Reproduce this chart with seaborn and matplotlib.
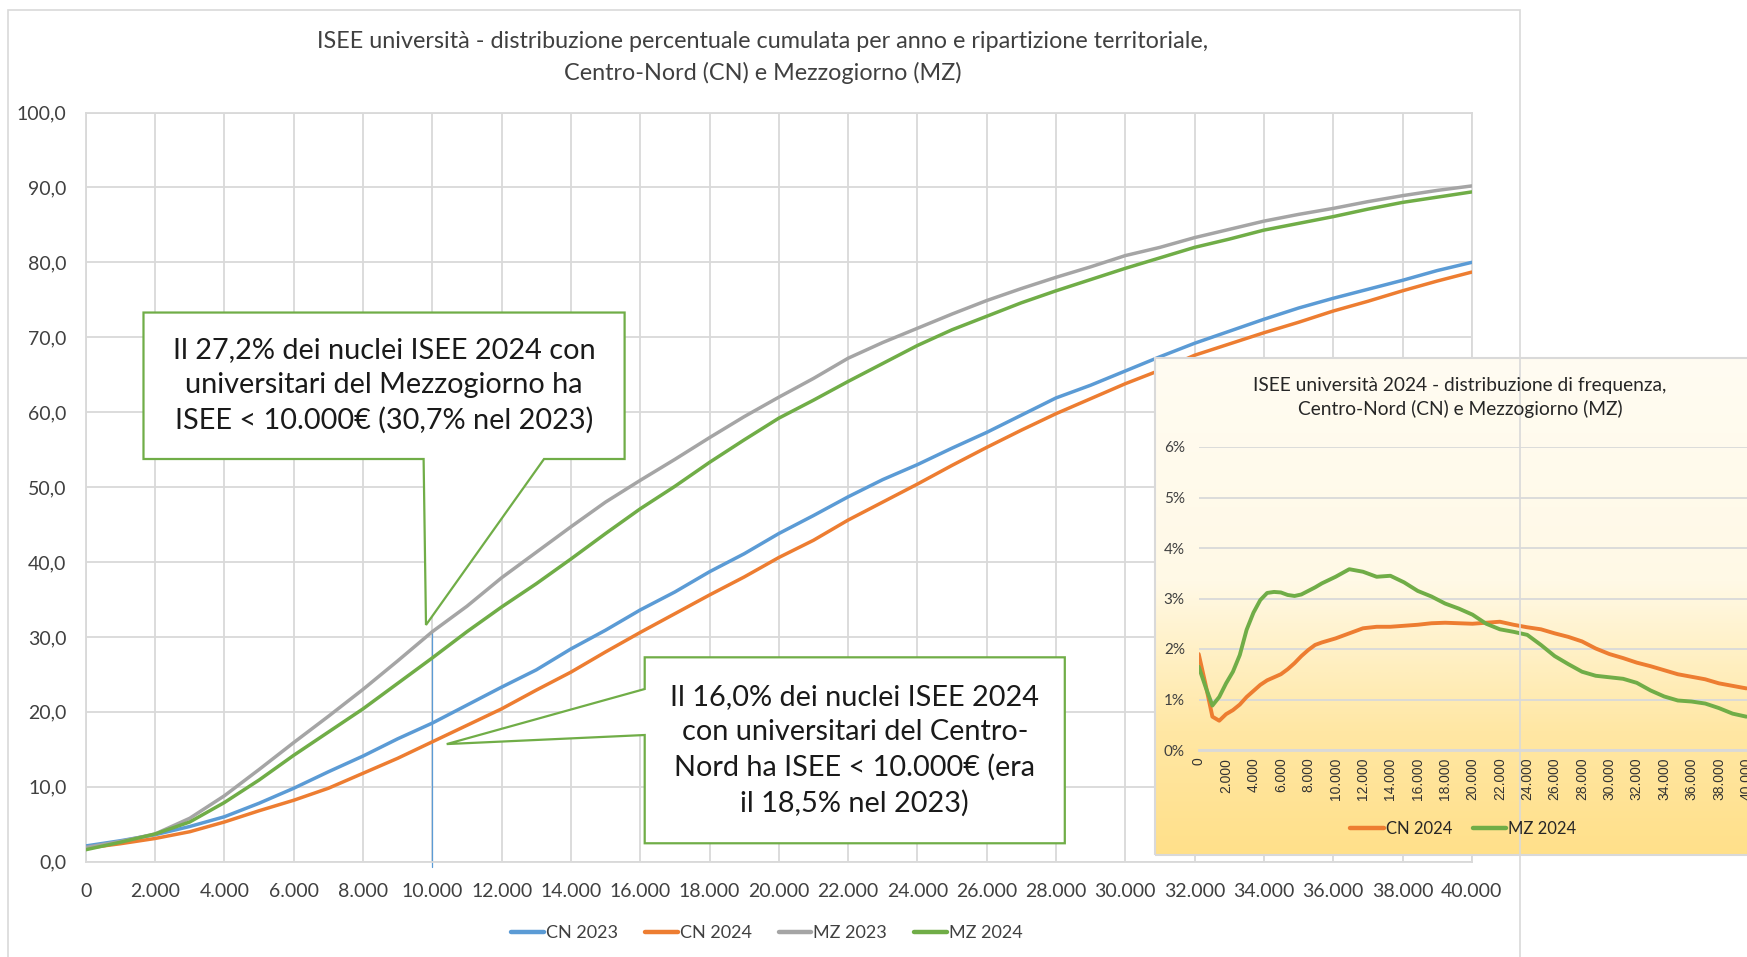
import numpy as np
import pandas as pd
import matplotlib
matplotlib.use("Agg")
import matplotlib.pyplot as plt
from matplotlib.colors import LinearSegmentedColormap
from matplotlib.lines import Line2D
from matplotlib.patches import Polygon, Rectangle
from matplotlib.ticker import FuncFormatter, MultipleLocator
import seaborn as sns

# ---------------------------------------------------------------------------
# Cumulative distribution (%) by ISEE threshold (euro)
# ---------------------------------------------------------------------------
soglie = list(range(0, 40001, 1000))

cn_2023 = [2.1, 2.8, 3.6, 4.7, 6.0, 7.8, 9.8, 12.0, 14.1, 16.4,
           18.5, 20.9, 23.3, 25.6, 28.4, 30.9, 33.6, 36.0, 38.7, 41.1,
           43.8, 46.2, 48.7, 51.0, 53.0, 55.2, 57.3, 59.6, 61.9, 63.6,
           65.5, 67.4, 69.2, 70.8, 72.4, 73.9, 75.2, 76.4, 77.6, 78.9, 80.0]
cn_2024 = [1.8, 2.4, 3.1, 4.0, 5.3, 6.8, 8.2, 9.8, 11.8, 13.8,
           16.0, 18.2, 20.4, 22.9, 25.3, 28.0, 30.6, 33.1, 35.6, 38.0,
           40.6, 42.9, 45.6, 48.0, 50.4, 52.9, 55.3, 57.6, 59.8, 61.8,
           63.8, 65.6, 67.6, 69.1, 70.6, 72.0, 73.5, 74.8, 76.2, 77.5, 78.7]
mz_2023 = [1.9, 2.7, 3.7, 5.8, 8.8, 12.3, 15.9, 19.4, 23.0, 26.8,
           30.7, 34.1, 37.9, 41.3, 44.7, 48.0, 50.9, 53.7, 56.6, 59.4,
           62.0, 64.5, 67.2, 69.3, 71.2, 73.1, 74.9, 76.5, 78.0, 79.4,
           80.9, 82.0, 83.3, 84.4, 85.5, 86.4, 87.2, 88.1, 88.9, 89.6, 90.2]
mz_2024 = [1.6, 2.6, 3.7, 5.3, 7.9, 10.9, 14.2, 17.3, 20.4, 23.8,
           27.2, 30.7, 34.0, 37.1, 40.4, 43.8, 47.1, 50.1, 53.3, 56.3,
           59.2, 61.6, 64.1, 66.5, 68.9, 71.0, 72.8, 74.6, 76.2, 77.7,
           79.2, 80.6, 82.0, 83.1, 84.3, 85.2, 86.1, 87.1, 88.0, 88.7, 89.4]

serie_cumulate = ["CN 2023", "CN 2024", "MZ 2023", "MZ 2024"]
colori = {"CN 2023": "#5B9BD5", "CN 2024": "#ED7D31",
          "MZ 2023": "#A5A5A5", "MZ 2024": "#70AD47"}

# ---------------------------------------------------------------------------
# Frequency distribution 2024 (%) by ISEE class (euro)
# ---------------------------------------------------------------------------
classi = [0, 500, 1000, 1500, 2000, 2500, 3000, 3500, 4000, 4500,
          5000, 5500, 6000, 6500, 7000, 7500, 8000, 8500, 9000] + list(range(10000, 40001, 1000))
freq_cn_2024 = [1.90, 1.30, 0.66, 0.58, 0.71, 0.79, 0.90, 1.05, 1.17, 1.29,
                1.38, 1.44, 1.50, 1.60, 1.72, 1.86, 1.98, 2.08, 2.13,
                2.21, 2.31, 2.41, 2.44, 2.44, 2.46, 2.48, 2.51, 2.52, 2.51,
                2.50, 2.52, 2.54, 2.48, 2.43, 2.39, 2.31, 2.24, 2.15, 2.01,
                1.90, 1.82, 1.73, 1.66, 1.58, 1.50, 1.45, 1.40, 1.32, 1.27, 1.22]
freq_mz_2024 = [1.65, 1.25, 0.88, 1.05, 1.32, 1.55, 1.88, 2.38, 2.72, 2.97,
                3.11, 3.13, 3.12, 3.07, 3.05, 3.08, 3.15, 3.22, 3.30,
                3.43, 3.58, 3.53, 3.43, 3.45, 3.32, 3.15, 3.04, 2.90, 2.80,
                2.68, 2.50, 2.39, 2.34, 2.28, 2.08, 1.86, 1.70, 1.55, 1.47,
                1.44, 1.41, 1.33, 1.18, 1.06, 0.98, 0.96, 0.92, 0.83, 0.72, 0.66]
serie_freq = ["CN 2024", "MZ 2024"]

titolo = ("ISEE università - distribuzione percentuale cumulata per anno e ripartizione territoriale,\n"
          "Centro-Nord (CN) e Mezzogiorno (MZ)")
titolo_freq = ("ISEE università 2024 - distribuzione di frequenza,\n"
               "Centro-Nord (CN) e Mezzogiorno (MZ)")
nota_mz = "Il 27,2% dei nuclei ISEE 2024 con\nuniversitari del Mezzogiorno ha\nISEE < 10.000€ (30,7% nel 2023)"
nota_cn = "Il 16,0% dei nuclei ISEE 2024\ncon universitari del Centro-\nNord ha ISEE < 10.000€ (era\nil 18,5% nel 2023)"

# ---------------------------------------------------------------------------
sns.set_theme(style="white")
plt.rcParams["font.family"] = ["Lato", "DejaVu Sans"]

W, H = 1747, 957
fig = plt.figure(figsize=(W / 100, H / 100), dpi=100)
fig.patch.set_facecolor("white")


def rect(x0, y0, x1, y1):
    """Figure-fraction rectangle from pixel edges (origin top-left)."""
    return [x0 / W, 1 - y1 / H, (x1 - x0) / W, (y1 - y0) / H]


GRID = "#D9D9D9"
TXT = "#404040"

# outer chart frame
fig.add_artist(Rectangle((7.5 / W, 1 - 960 / H), 1512.5 / W, 950 / H,
                         transform=fig.transFigure, fill=False, ec=GRID, lw=1.2))

# ---------------- main cumulative chart ----------------
ax = fig.add_axes(rect(85.8, 112.5, 1471.8, 861.7))
df_cum = pd.DataFrame({
    "ISEE": soglie * 4,
    "Percentuale": cn_2023 + cn_2024 + mz_2023 + mz_2024,
    "Serie": sum([[s] * len(soglie) for s in serie_cumulate], []),
})
sns.lineplot(data=df_cum, x="ISEE", y="Percentuale", hue="Serie",
             hue_order=serie_cumulate, palette=colori, linewidth=2.5,
             legend=False, ax=ax, zorder=3)

ax.set_xlim(0, 40000)
ax.set_ylim(0, 100)
ax.xaxis.set_major_locator(MultipleLocator(2000))
ax.yaxis.set_major_locator(MultipleLocator(10))
ax.xaxis.set_major_formatter(FuncFormatter(lambda v, p: f"{int(v):,}".replace(",", ".")))
ax.yaxis.set_major_formatter(FuncFormatter(lambda v, p: f"{v:.1f}".replace(".", ",")))
ax.grid(True, color=GRID, lw=1.3)
ax.set_axisbelow(True)
for sp in ax.spines.values():
    sp.set_color(GRID)
    sp.set_linewidth(1.3)
ax.tick_params(axis="x", length=5, width=1.3, color=GRID, pad=10,
               labelsize=14, labelcolor=TXT)
ax.tick_params(axis="y", length=0, pad=14, labelsize=14, labelcolor=TXT)
ax.set_xlabel("")
ax.set_ylabel("")

# drop line at the 10.000 threshold
i10 = soglie.index(10000)
ax.plot([10000, 10000], [-0.7, mz_2023[i10]], color="#5B9BD5", lw=0.9,
        clip_on=False, zorder=2.5)

# callout for Mezzogiorno
L, R, T, B = 1665, 15550, 73.3, 53.75
tip_mz = (9818, mz_2023[i10] + 0.9)
callout_mz = Polygon([(L, T), (R, T), (R, B), (13224, B), tip_mz, (9749, B), (L, B)],
                     closed=True, fc="white", ec="#70AD47", lw=1.6,
                     joinstyle="miter", clip_on=False, zorder=5)
ax.add_patch(callout_mz)
ax.text((L + R) / 2, (T + B) / 2, nota_mz, ha="center", va="center",
        fontsize=20.8, linespacing=1.42, color="#1a1a1a", zorder=6)

# callout for Centro-Nord
L, R, T, B = 16130, 28254, 27.28, 2.46
tip_cn = (10416, cn_2024[i10] - 0.3)
callout_cn = Polygon([(L, T), (R, T), (R, B), (L, B), (L, 16.91), tip_cn, (L, 23.05)],
                     closed=True, fc="white", ec="#70AD47", lw=1.6,
                     joinstyle="miter", clip_on=False, zorder=5)
ax.add_patch(callout_cn)
ax.text((L + R) / 2, (T + B) / 2, nota_cn, ha="center", va="center",
        fontsize=20.8, linespacing=1.42, color="#1a1a1a", zorder=6)

fig.text(763 / W, 1 - 57.5 / H, titolo, ha="center", va="center",
         fontsize=16.8, linespacing=1.5, color=TXT)

handles = [Line2D([], [], color=colori[s], lw=3.2, solid_capstyle="round") for s in serie_cumulate]
leg = fig.legend(handles, serie_cumulate, loc="center",
                 bbox_to_anchor=(767 / W, 1 - 933 / H), ncol=4, frameon=False,
                 handlelength=1.8, handletextpad=0.12, columnspacing=1.5,
                 fontsize=13)
for t in leg.get_texts():
    t.set_color(TXT)

# ---------------- inset: frequency distribution ----------------
bg = fig.add_axes(rect(1155, 358, 1765, 855))
sfondo = LinearSegmentedColormap.from_list(
    "sfondo", [(0.0, "#FFFCF2"), (0.45, "#FFF9E6"), (0.60, "#FFF0C4"),
               (0.75, "#FFE7A4"), (1.0, "#FFE08A")])
bg.imshow(np.linspace(0, 1, 256).reshape(-1, 1), aspect="auto", cmap=sfondo,
          extent=[0, 1, 0, 1], origin="upper")
bg.set_xlim(0, 1)
bg.set_ylim(0, 1)
bg.axis("off")
bg.add_patch(Rectangle((0, 0), 1, 1, transform=bg.transAxes, fill=False,
                       ec=GRID, lw=1.5, clip_on=False))

inner = fig.add_axes(rect(1198.7, 447, 1198.7 + 13.69 * 40.5, 750))
inner.patch.set_alpha(0)
df_freq = pd.DataFrame({
    "ISEE": classi * 2,
    "Frequenza": freq_cn_2024 + freq_mz_2024,
    "Serie": ["CN 2024"] * len(classi) + ["MZ 2024"] * len(classi),
})
sns.lineplot(data=df_freq, x="ISEE", y="Frequenza", hue="Serie",
             hue_order=serie_freq, palette=colori, linewidth=2.8,
             legend=False, ax=inner, zorder=3)
inner.set_xlim(0, 40500)
inner.set_ylim(0, 6)
inner.xaxis.set_major_locator(MultipleLocator(2000))
inner.yaxis.set_major_locator(MultipleLocator(1))
inner.xaxis.set_major_formatter(FuncFormatter(lambda v, p: f"{int(v):,}".replace(",", ".")))
inner.yaxis.set_major_formatter(FuncFormatter(lambda v, p: f"{int(round(v))}%"))
inner.grid(axis="y", color=GRID, lw=1.3)
inner.grid(axis="x", visible=False)
inner.set_axisbelow(True)
for k in ("left", "right", "top"):
    inner.spines[k].set_visible(False)
inner.spines["bottom"].set_color(GRID)
inner.spines["bottom"].set_linewidth(2)
inner.tick_params(axis="x", direction="inout", length=7, width=1.3, color=GRID,
                  labelsize=10, labelrotation=90, pad=2, labelcolor="#333333")
for t in inner.get_xticklabels():
    t.set_family(["Liberation Sans", "DejaVu Sans"])
inner.tick_params(axis="y", length=0, pad=10, labelsize=11, labelcolor=TXT)
inner.set_xlabel("")
inner.set_ylabel("")

fig.text(1460 / W, 1 - 397.5 / H, titolo_freq, ha="center", va="center",
         fontsize=13.8, linespacing=1.45, color="#262626")

handles_f = [Line2D([], [], color=colori[s], lw=3.2, solid_capstyle="round") for s in serie_freq]
leg_f = fig.legend(handles_f, serie_freq, loc="center",
                   bbox_to_anchor=(1463.5 / W, 1 - 829 / H), ncol=2, frameon=False,
                   handlelength=2.0, handletextpad=0.15, columnspacing=1.2,
                   fontsize=12)
for t in leg_f.get_texts():
    t.set_color("#262626")

fig.savefig("out.png", dpi=100, facecolor="white")
